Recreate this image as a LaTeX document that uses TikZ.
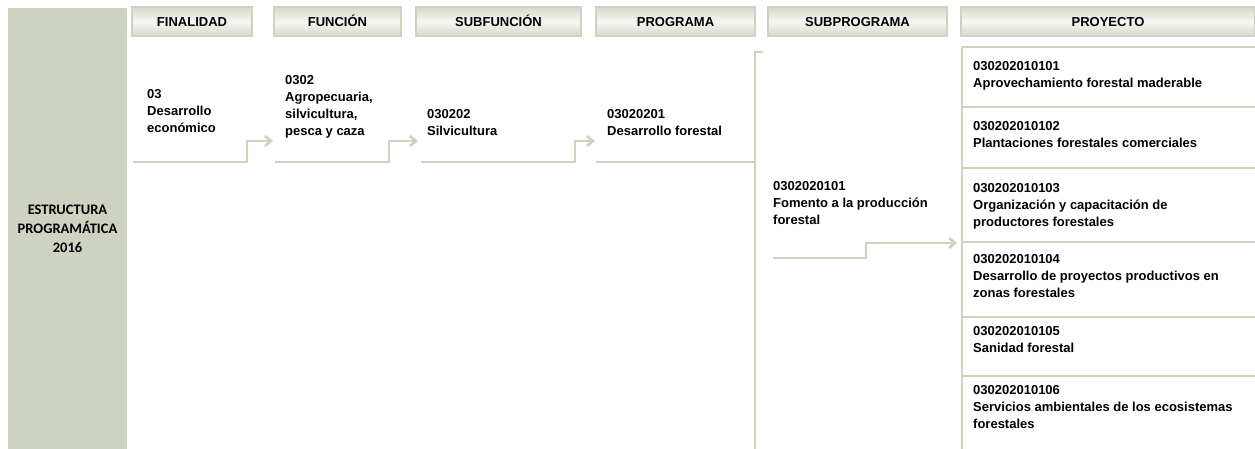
\documentclass[tikz,border=0pt]{standalone}
\usepackage{fontspec}
\setmainfont{Liberation Sans}
\newfontfamily\calibrifont{Carlito}
\usetikzlibrary{arrows.meta}
\definecolor{sage}{RGB}{206,210,192}
\definecolor{headlight}{RGB}{246,246,242}
\definecolor{headdark}{RGB}{214,217,203}

\tikzset{
  every picture/.append style={x=1pt, y=-1pt},
  head/.style={draw=sage, line width=1.5pt, top color=headdark, bottom color=headdark,
    middle color=headlight, minimum height=29pt, inner sep=0pt,
    text height=10.4pt, text depth=0pt,
    font=\bfseries\fontsize{13}{15}\selectfont},
  code/.style={anchor=north west, inner sep=0pt, align=left,
    font=\bfseries\fontsize{13}{17}\selectfont, execute at begin node=\strut},
  flow/.style={draw=sage, line width=2.6pt, -{Straight Barb[length=6pt,width=10pt]}},
  rule/.style={draw=sage, line width=2.6pt},
}

\begin{document}
\begin{tikzpicture}
  \useasboundingbox (0,0) rectangle (1255,449);
  \node[fill=sage, minimum width=119pt, minimum height=441pt, inner sep=0pt, align=center,
    font=\calibrifont\bfseries\fontsize{14.5}{19}\selectfont] (estructura) at (67.5,228.5)
    {ESTRUCTURA\\PROGRAMÁTICA\\2016};

  \node[head, minimum width=120pt] (finalidad) at (192,21.5) {FINALIDAD};
  \node[head, minimum width=127pt] (funcion) at (337.5,21.5) {FUNCIÓN};
  \node[head, minimum width=165pt] (subfuncion) at (498.5,21.5) {SUBFUNCIÓN};
  \node[head, minimum width=159pt] (programa) at (675.5,21.5) {PROGRAMA};
  \node[head, minimum width=179pt] (subprograma) at (857.5,21.5) {SUBPROGRAMA};
  \node[head, minimum width=294pt] (proyecto) at (1108,21.5) {PROYECTO};

  \node[code] (fin-03) at (147,89.6) {03\\Desarrollo\\económico};
  \node[code] (fun-0302) at (285,75) {0302\\Agropecuaria,\\silvicultura,\\pesca y caza};
  \node[code] (sub-030202) at (427,109) {030202\\Silvicultura};
  \node[code] (pro-03020201) at (607,109) {03020201\\Desarrollo forestal};
  \node[code] (spr-0302020101) at (773,181) {0302020101\\Fomento a la producción\\forestal};

  \node[code] (pry-01) at (973,61) {030202010101\\Aprovechamiento forestal maderable};
  \node[code] (pry-02) at (973,121) {030202010102\\Plantaciones forestales comerciales};
  \node[code] (pry-03) at (973,183) {030202010103\\Organización y capacitación de\\productores forestales};
  \node[code] (pry-04) at (973,254) {030202010104\\Desarrollo de proyectos productivos en\\zonas forestales};
  \node[code] (pry-05) at (973,326) {030202010105\\Sanidad forestal};
  \node[code] (pry-06) at (973,385) {030202010106\\Servicios ambientales de los ecosistemas\\forestales};

  \coordinate (finalidad-out) at (133,162);
  \coordinate (funcion-in) at (273,141);
  \coordinate (funcion-out) at (275,162);
  \coordinate (subfuncion-in) at (418,141);
  \coordinate (subfuncion-out) at (421,162);
  \coordinate (programa-in) at (595,141);
  \coordinate (programa-out) at (596,162);
  \coordinate (subprograma-top) at (763,52);
  \coordinate (subprograma-out) at (773,258);
  \coordinate (proyecto-in) at (957,243);

  \draw[flow] (finalidad-out) -- ++(114,0) |- (funcion-in);
  \draw[flow] (funcion-out) -- ++(114,0) |- (subfuncion-in);
  \draw[flow] (subfuncion-out) -- ++(154,0) |- (programa-in);
  \draw[rule] (programa-out) -- ++(159,0);
  \draw[rule] (subprograma-top) -- ++(-8,0) -- ++(0,397);
  \draw[flow] (subprograma-out) -- ++(93,0) |- (proyecto-in);

  \draw[rule] (962,47) -- (962,449);
  \foreach \y in {47,107,168,242,317,376}
    \draw[rule] (962,\y) -- (1255,\y);
\end{tikzpicture}
\end{document}
